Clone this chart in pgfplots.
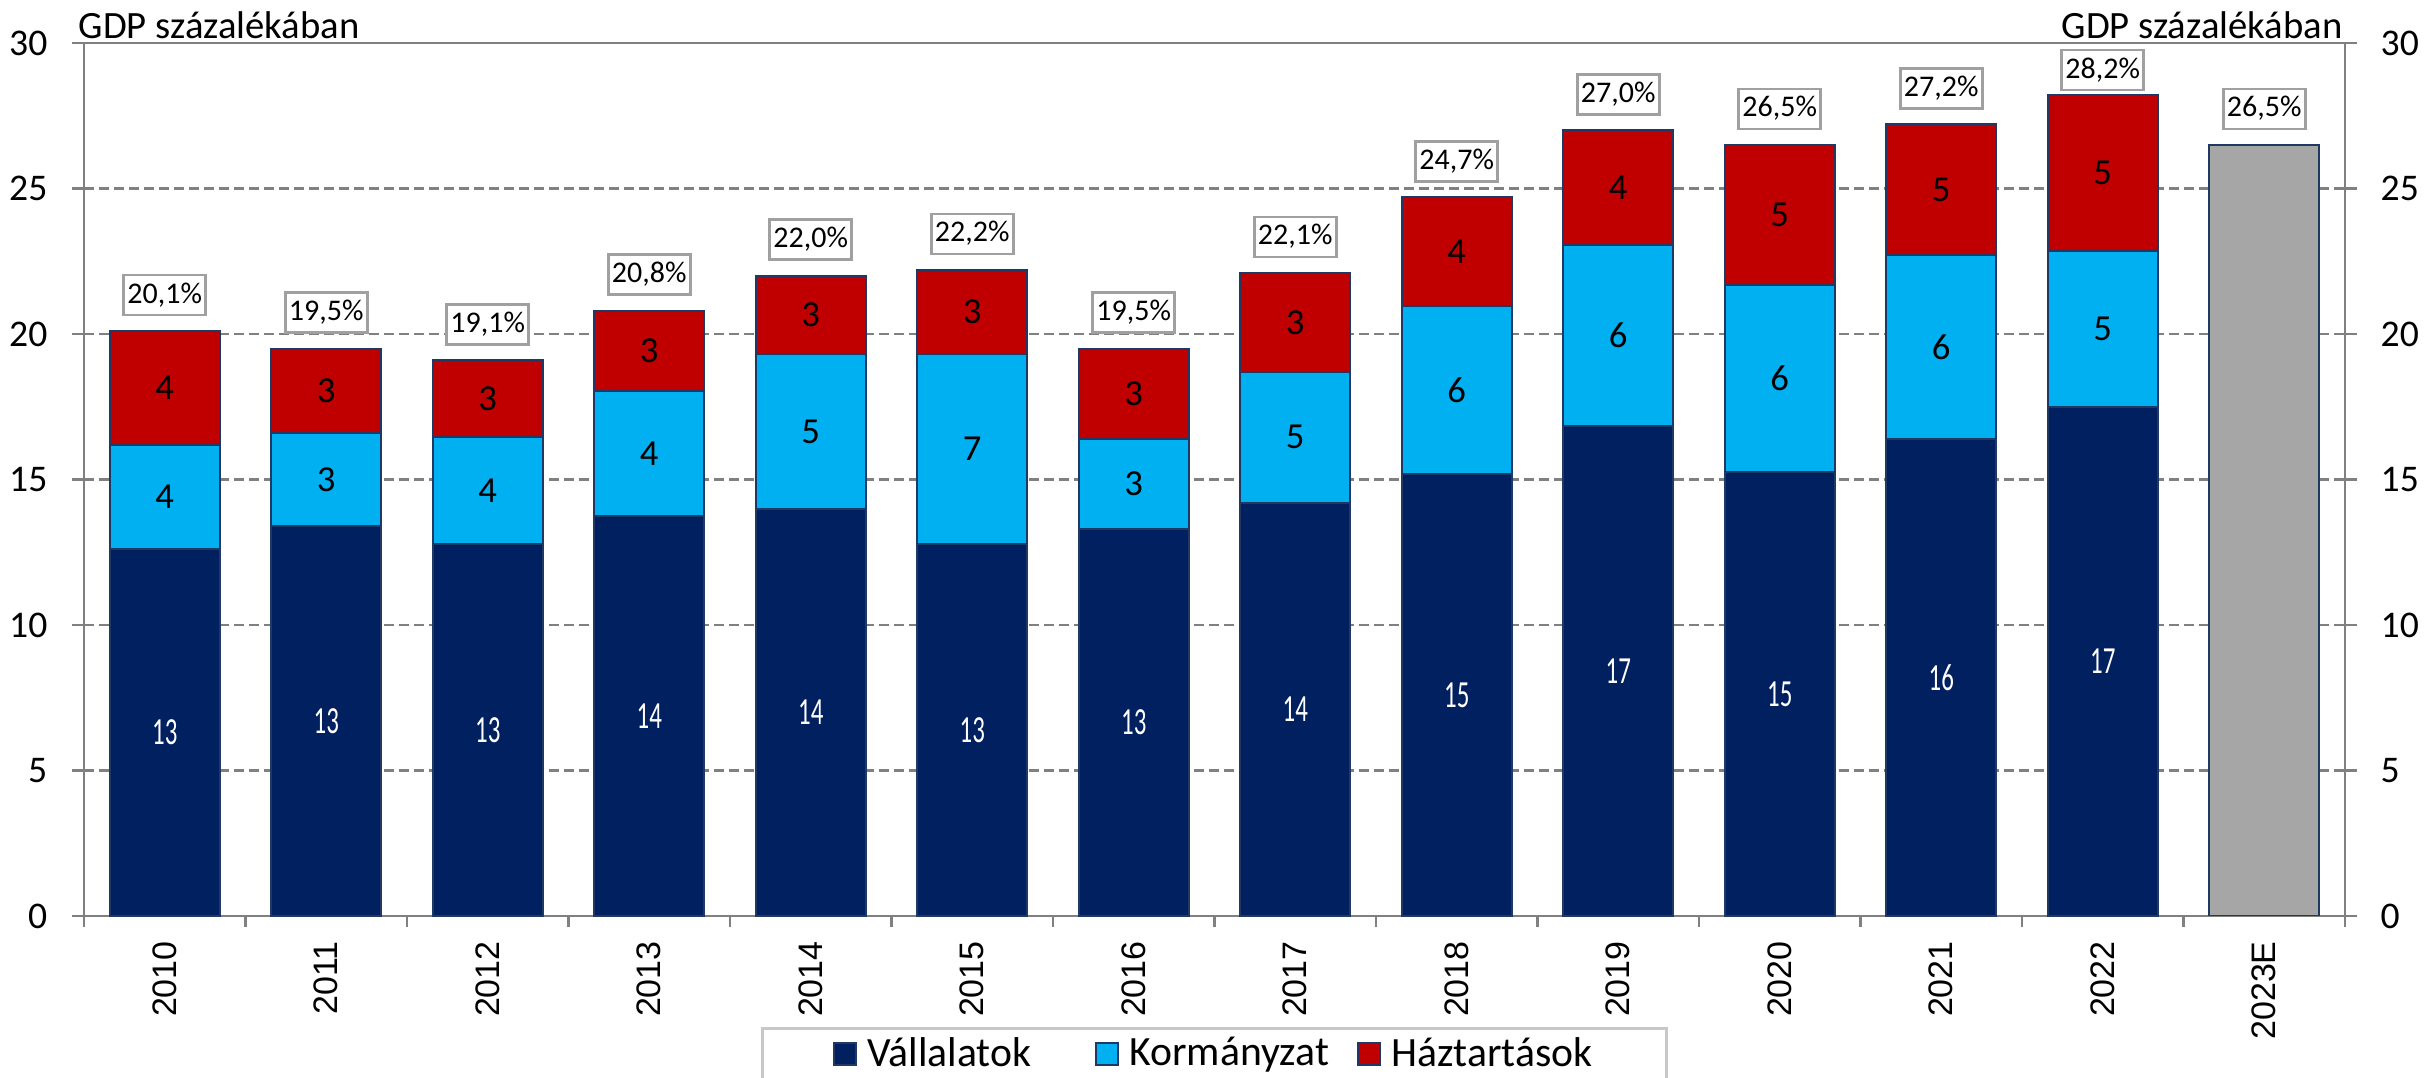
\documentclass[border=0pt]{standalone}
\usepackage{pgfplots}
\pgfplotsset{compat=1.18}
\usepackage{pgfplotstable}
\usepackage{fontspec}
\setmainfont{Carlito}
\newfontfamily\arialf{Liberation Sans}
\definecolor{navyc}{HTML}{002060}
\definecolor{cyanc}{HTML}{00B0F0}
\definecolor{redc}{HTML}{C00000}
\definecolor{grayc}{HTML}{A6A6A6}
\definecolor{axgray}{HTML}{808080}
\definecolor{boxgray}{HTML}{A0A0A0}
\definecolor{bordc}{HTML}{1F3864}
\definecolor{leggray}{HTML}{C8C8C8}

\pgfplotstableread{
x nav cyn red
0 12.6 3.6 3.9
1 13.4 3.2 2.9
2 12.8 3.65 2.65
3 13.75 4.3 2.75
4 14.0 5.3 2.7
5 12.8 6.5 2.9
6 13.3 3.1 3.1
7 14.2 4.5 3.4
8 15.2 5.75 3.75
9 16.85 6.2 3.95
10 15.25 6.45 4.8
11 16.4 6.3 4.5
12 17.5 5.35 5.35
}\segdata

\pgfplotstableread{
x tot lbl
0 20.1 20,1\%
1 19.5 19,5\%
2 19.1 19,1\%
3 20.8 20,8\%
4 22.0 22,0\%
5 22.2 22,2\%
6 19.5 19,5\%
7 22.1 22,1\%
8 24.7 24,7\%
9 27.0 27,0\%
10 26.5 26,5\%
11 27.2 27,2\%
13 26.5 26,5\%
}\totdata

\pgfplotstableread{
x tot lbl
12 28.2 28,2\%
}\totdatatop

\pgfplotstableread{
x y lbl
0 6.3 13
1 6.7 13
2 6.4 13
3 6.875 14
4 7.0 14
5 6.4 13
6 6.65 13
7 7.1 14
8 7.6 15
9 8.425 17
10 7.625 15
11 8.2 16
12 8.75 17
}\whitelbl

\pgfplotstableread{
x y lbl
0 14.4 4
1 15.0 3
2 14.625 4
3 15.9 4
4 16.65 5
5 16.05 7
6 14.85 3
7 16.45 5
8 18.075 6
9 19.95 6
10 18.475 6
11 19.55 6
12 20.175 5
0 18.15 4
1 18.05 3
2 17.775 3
3 19.425 3
4 20.65 3
5 20.75 3
6 17.95 3
7 20.4 3
8 22.825 4
9 25.025 4
10 24.1 5
11 24.95 5
12 25.525 5
}\blacklbl

\tikzset{totbox/.style={font=\fontsize{9}{11}\selectfont, draw=boxgray, line width=0.8pt, fill=white,
    inner xsep=1.1pt, inner ysep=1.8pt, text height=6.6pt, text depth=1.8pt, anchor=south}}

\pgfplotsset{
  legsq/.style={legend image code/.code={\draw[##1] (0pt,-3.3pt) rectangle (6.6pt,3.3pt);}},
  common/.style={
    at={(25.2pt,48.6pt)}, anchor=south west,
    scale only axis, width=678.3pt, height=261.9pt,
    xmin=-0.5, xmax=13.5, ymin=0, ymax=30,
    ytick={0,5,...,30},
    tick align=outside,
    major tick length=3.6pt,
    minor tick length=3.3pt,
    tick style={axgray, line width=0.8pt},
    axis line style={axgray, line width=0.8pt},
    /pgf/number format/assume math mode=true,
    yticklabel style={font=\fontsize{11.3}{13}\selectfont, inner sep=0pt},
  }
}

\begin{document}
\begin{tikzpicture}
\begin{axis}[common,
  clip=false,
  ybar stacked, bar width=33pt,
  xtick={0,...,13},
  xticklabels={2010,2011,2012,2013,2014,2015,2016,2017,2018,2019,2020,2021,2022,2023E},
  major x tick style={draw=none},
  minor xtick={-0.5,0.5,1.5,2.5,3.5,4.5,5.5,6.5,7.5,8.5,9.5,10.5,11.5,12.5,13.5},
  xtick pos=left, ytick pos=left,
  xticklabel style={font=\arialf\fontsize{10.2}{12}\selectfont, rotate=90, anchor=east, inner sep=0pt},
  xticklabel shift=3.8pt,
  yticklabel shift=7.2pt,
  ymajorgrids,
  grid style={axgray, line width=0.75pt, dash pattern=on 3pt off 1.5pt},
  legend columns=3,
  legend style={at={(0.5,-0.127)}, anchor=north, draw=leggray, line width=0.8pt,
    font=\fontsize{12.5}{14}\selectfont, inner xsep=21pt, inner ysep=1.5pt,
    nodes={inner sep=1.2pt},
    /tikz/every odd column/.append style={column sep=2pt}},
  legend cell align=left,
]
\addplot[fill=navyc, draw=bordc, line width=0.6pt, legsq] table[x=x,y=nav]{\segdata};
\addlegendentry{\makebox[67pt][l]{Vállalatok}}
\addplot[fill=cyanc, draw=bordc, line width=0.6pt, legsq] table[x=x,y=cyn]{\segdata};
\addlegendentry{\makebox[67pt][l]{Kormányzat}}
\addplot[fill=redc, draw=bordc, line width=0.6pt, legsq] table[x=x,y=red]{\segdata};
\addlegendentry{Háztartások}
\node[anchor=base west, font=\fontsize{11.6}{13}\selectfont, inner sep=0pt] at ([xshift=-1.8pt,yshift=1.4pt]rel axis cs:0,1) {GDP százalékában};
\node[anchor=base east, font=\fontsize{11.6}{13}\selectfont, inner sep=0pt] at ([xshift=-0.6pt,yshift=1.4pt]rel axis cs:1,1) {GDP százalékában};
\end{axis}
\begin{axis}[common,
  hide x axis,
  axis y line*=right,
  ytick pos=right, yticklabel pos=right,
  yticklabel shift=6.9pt,
]
\addplot[ybar, bar width=33pt, bar shift=0pt, fill=grayc, draw=bordc, line width=0.6pt] coordinates {(13,26.5)};
\addplot[draw=none, mark=none, nodes near coords, point meta=explicit symbolic,
  nodes near coords style={totbox, yshift=4.4pt}]
  table[x=x, y=tot, meta=lbl]{\totdata};
\addplot[draw=none, mark=none, nodes near coords, point meta=explicit symbolic,
  nodes near coords style={totbox, yshift=1.2pt}]
  table[x=x, y=tot, meta=lbl]{\totdatatop};
\addplot[draw=none, mark=none, nodes near coords={\scalebox{0.65}[1]{\pgfplotspointmeta}}, point meta=explicit symbolic,
  nodes near coords style={font=\fontsize{11.5}{13}\selectfont, text=white, anchor=center, inner sep=0pt}]
  table[x=x, y=y, meta=lbl]{\whitelbl};
\addplot[draw=none, mark=none, nodes near coords, point meta=explicit symbolic,
  nodes near coords style={font=\fontsize{11}{12}\selectfont, text=black, anchor=center, inner sep=0pt}]
  table[x=x, y=y, meta=lbl]{\blacklbl};
\end{axis}
\pgfresetboundingbox
\useasboundingbox (0,0) rectangle (728.4pt,323.4pt);
\end{tikzpicture}
\end{document}
